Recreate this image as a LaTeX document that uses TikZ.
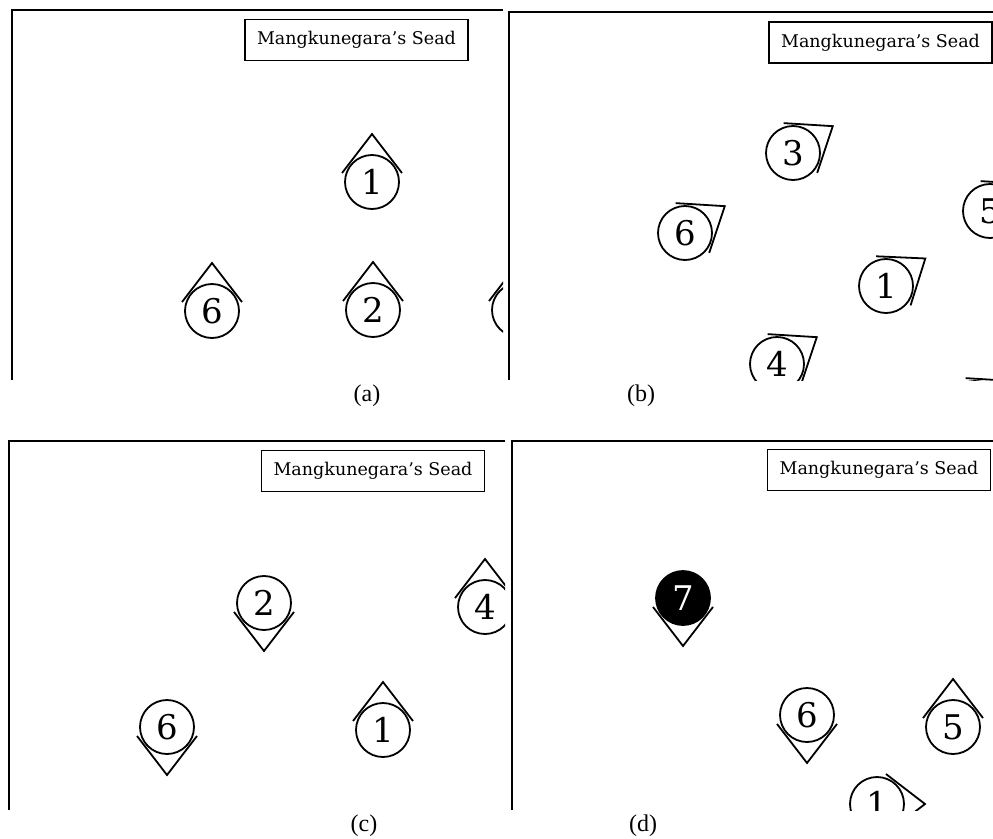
\documentclass[tikz,border=0pt]{standalone}
\usepackage{fontspec}
\setmainfont{DejaVu Serif}
\newfontfamily\labfont{Liberation Serif}
\usetikzlibrary{calc}
\tikzset{
  frameline/.style={line width=2pt, line join=miter},
  legendbox/.style={draw, line width=1.8pt, minimum width=223pt, minimum height=41pt, inner sep=0pt, font=\fontsize{17.5}{20}\selectfont},
  player/.style={circle, draw, line width=1.8pt, minimum size=54pt, inner sep=0pt, fill=white, font=\fontsize{34}{40}\selectfont},
  keeper/.style={player, fill=black, text=white},
  dirline/.style={line width=1.8pt, line join=miter},
  panellabel/.style={font=\labfont\fontsize{24}{28}\selectfont, inner sep=0pt},
}
\newcommand\dirmark[2]{\draw[dirline] ($(#1)+({-(#2)+73.3}:31.3)$) -- ($(#1)+({-(#2)}:48)$) -- ($(#1)+({-(#2)-73.3}:31.3)$);}
\begin{document}
\begin{tikzpicture}[x=1pt,y=-1pt]
\useasboundingbox (0,0) rectangle (993,838);
% ---------- panel (a)
\draw[frameline] (12,380) -- (12,10) -- (503,10);
\begin{scope}
\clip (12,10) rectangle (503,380);
\node[legendbox] (la) at (356.5,40) {Mangkunegara's Sead};
\node[player] (a1) at (372,182) {1};
\node[player] (a6) at (212,311) {6};
\node[player] (a2) at (373,310) {2};
\node[player] (ax) at (519,310) {};
\dirmark{a1}{90}
\dirmark{a6}{90}
\dirmark{a2}{90}
\dirmark{ax}{90}
\end{scope}
\node[panellabel] (capa) at (367,396) {(a)};
% ---------- panel (b)
\draw[frameline] (509,380) -- (509,12) -- (993,12);
\begin{scope}
\clip (509,12) rectangle (993,380);
\node[legendbox] (lb) at (880.5,42.5) {Mangkunegara's Sead};
\node[player] (b3) at (793,153) {3};
\node[player] (b6) at (685,233) {6};
\node[player] (b1) at (886,286) {1};
\node[player] (b4) at (777,364) {4};
\node[player] (b5) at (990,211) {5};
\node[player] (bx) at (975,408) {};
\dirmark{b3}{34}
\dirmark{b6}{34}
\dirmark{b1}{35}
\dirmark{b4}{34}
\dirmark{b5}{34}
\dirmark{bx}{34}
\end{scope}
\node[panellabel] (capb) at (641,396) {(b)};
% ---------- panel (c)
\draw[frameline] (9,810) -- (9,441) -- (505,441);
\begin{scope}
\clip (9,441) rectangle (505,810);
\node[legendbox] (lc) at (373,471) {Mangkunegara's Sead};
\node[player] (c2) at (264,603) {2};
\node[player] (c4) at (485,607) {4};
\node[player] (c6) at (167,727) {6};
\node[player] (c1) at (383,730) {1};
\dirmark{c2}{-90}
\dirmark{c4}{90}
\dirmark{c6}{-90}
\dirmark{c1}{90}
\end{scope}
\node[panellabel] (capc) at (364,826) {(c)};
% ---------- panel (d)
\draw[frameline] (512,810) -- (512,441) -- (993,441);
\begin{scope}
\clip (512,441) rectangle (993,810);
\node[legendbox] (ld) at (879,470) {Mangkunegara's Sead};
\node[keeper] (d7) at (683,598) {7};
\node[player] (d6) at (807,715) {6};
\node[player] (d5) at (953,727) {5};
\node[player] (d1) at (877,804) {1};
\dirmark{d7}{-90}
\dirmark{d6}{-90}
\dirmark{d5}{90}
\dirmark{d1}{0}
\end{scope}
\node[panellabel] (capd) at (643,826) {(d)};
\end{tikzpicture}
\end{document}
